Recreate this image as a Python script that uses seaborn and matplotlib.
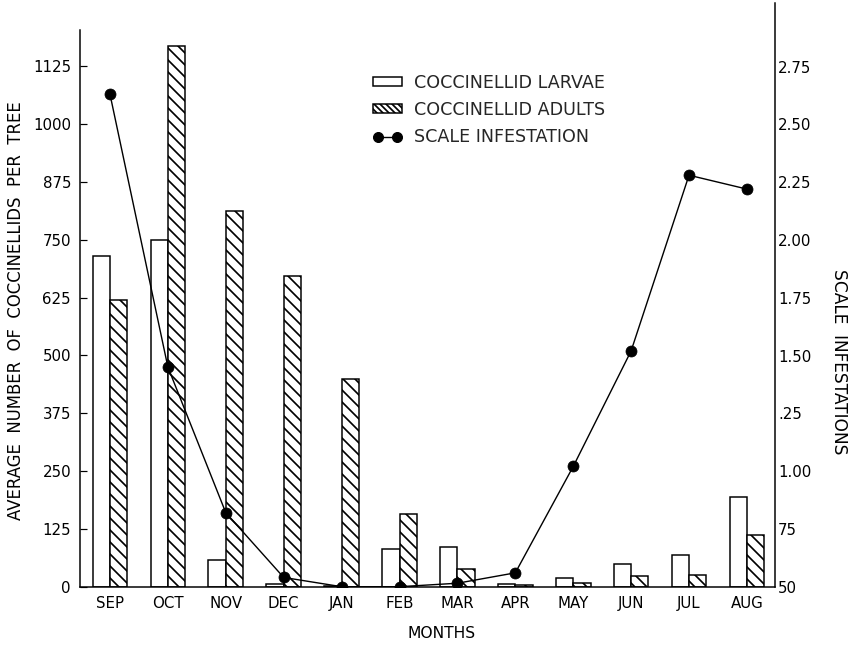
import numpy as np
import pandas as pd
import matplotlib
matplotlib.use("Agg")
import matplotlib.pyplot as plt
import seaborn as sns
from matplotlib.patches import Patch
from matplotlib.lines import Line2D

# Monthly coccinellid counts per tree and scale infestation index
months = ["SEP", "OCT", "NOV", "DEC", "JAN", "FEB", "MAR", "APR", "MAY", "JUN", "JUL", "AUG"]
larvae = [715, 750, 58, 5, 2, 82, 85, 5, 18, 50, 68, 195]
adults = [620, 1168, 812, 672, 450, 157, 38, 4, 9, 23, 25, 111]
scale_infestation = [2.63, 1.45, 0.82, 0.54, 0.50, 0.50, 0.515, 0.56, 1.02, 1.52, 2.28, 2.22]

left_ticks = [0, 125, 250, 375, 500, 625, 750, 875, 1000, 1125]
right_ticks = [0.50, 0.75, 1.00, 1.25, 1.50, 1.75, 2.00, 2.25, 2.50, 2.75]
right_tick_labels = ["50", "75", "1.00", ".25", "1.50", "1.75", "2.00", "2.25", "2.50", "2.75"]

sns.set_theme(style="white")
plt.rcParams["font.family"] = ["DejaVu Sans"]
plt.rcParams["hatch.linewidth"] = 1.7
plt.rcParams["hatch.color"] = "black"

W, H, DPI = 853, 645, 72
fig = plt.figure(figsize=(W / DPI, H / DPI), dpi=DPI)
x0, x1, y_base, y_top = 80, 775, 586.7, 3
ax = fig.add_axes([x0 / W, (H - y_base) / H, (x1 - x0) / W, (y_base - y_top) / H])

df = pd.DataFrame({
    "month": months * 2,
    "count": larvae + adults,
    "stage": ["COCCINELLID LARVAE"] * len(months) + ["COCCINELLID ADULTS"] * len(months),
})
sns.barplot(data=df, x="month", y="count", hue="stage", order=months,
            hue_order=["COCCINELLID LARVAE", "COCCINELLID ADULTS"],
            palette=["white", "white"], saturation=1, width=0.6,
            edgecolor="black", linewidth=1.5, legend=False, ax=ax)
for bar in ax.containers[1]:
    bar.set_hatch("\\\\")

ax2 = ax.twinx()
sns.lineplot(x=np.arange(len(months)), y=scale_infestation, ax=ax2, color="black",
             linewidth=1.4, marker="o", markersize=11, markeredgecolor="black")

ax.set_xlim(-0.518, 11.485)
ax.set_ylim(0, 1262)
ax2.set_ylim(0.5, 3.025)

ax.set_yticks(left_ticks)
ax.set_yticklabels([str(t) for t in left_ticks])
ax.tick_params(axis="y", direction="in", length=7, width=1.2, labelsize=15, pad=9,
               left=True, colors="black")
ax.tick_params(axis="x", length=0, labelsize=15, pad=9, colors="black")
ax.set_xlabel("")
ax.set_ylabel("")

ax2.set_yticks(right_ticks)
ax2.set_yticklabels(right_tick_labels)
ax2.tick_params(axis="y", length=0, labelsize=15, pad=3, colors="black")
ax2.set_ylabel("")

for s in ["top", "right"]:
    ax.spines[s].set_visible(False)
for s in ["top", "left", "bottom"]:
    ax2.spines[s].set_visible(False)
ax.spines["left"].set_bounds(0, 1204)
for sp in [ax.spines["left"], ax.spines["bottom"], ax2.spines["right"]]:
    sp.set_color("black")
    sp.set_linewidth(1.5)

fig.text(442 / W, 1 - 633 / H, "MONTHS", ha="center", va="center", fontsize=15.5,
         color="black")
fig.text(16 / W, 1 - 311 / H, "AVERAGE  NUMBER  OF  COCCINELLIDS  PER  TREE",
         rotation=90, ha="center", va="center", fontsize=16.5, color="black")
fig.text(839 / W, 1 - 362 / H, "SCALE  INFESTATIONS",
         rotation=270, ha="center", va="center", fontsize=17, color="black")

handles = [
    Patch(facecolor="white", edgecolor="black", linewidth=1.5),
    Patch(facecolor="white", edgecolor="black", linewidth=1.5, hatch="\\\\\\\\"),
    Line2D([], [], color="black", linewidth=1.4, marker="o", markersize=10),
]
labels = ["COCCINELLID LARVAE", "COCCINELLID ADULTS", "SCALE INFESTATION"]
ax2.legend(handles, labels, loc="upper left", bbox_to_anchor=(373 / W, 1 - 74 / H),
           bbox_transform=fig.transFigure, frameon=False, fontsize=17.5, numpoints=2,
           borderpad=0, borderaxespad=0, handlelength=1.65, handleheight=0.4,
           handletextpad=0.7, labelspacing=0.52)

fig.savefig("out.png", dpi=DPI)
